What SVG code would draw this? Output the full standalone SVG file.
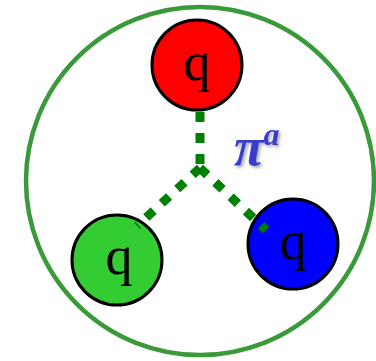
<svg xmlns="http://www.w3.org/2000/svg" width="376" height="361" viewBox="0 0 376 361">
<style>
.q{stroke:#000;stroke-width:3}
.t{font-family:"Liberation Serif",serif;font-size:54px;text-anchor:middle;fill:#000}
.c{fill:none;stroke:#008000;stroke-width:9;stroke-dasharray:10 11}
</style>
<defs>
<filter id="sh" x="-20%" y="-20%" width="150%" height="150%">
<feDropShadow dx="2" dy="2" stdDeviation="1.5" flood-color="#888" flood-opacity="0.7"/>
</filter>
</defs>
<g id="outer"><circle cx="200" cy="181" r="174" fill="#fff" stroke="#3a9a3a" stroke-width="4.5"/></g>
<g id="red"><circle class="q" cx="197" cy="65" r="45" fill="#ff0000"/><text class="t" x="197" y="80">q</text></g>
<g id="green"><circle class="q" cx="117" cy="260" r="45" fill="#33cc33"/><text class="t" x="119" y="274">q</text></g>
<g id="blue"><circle class="q" cx="293" cy="244" r="45" fill="#0000ff"/><text class="t" x="293" y="259">q</text></g>
<g id="connectors">
<path class="c" d="M200 112 L200 168"/>
<path class="c" d="M200 168 L137 226"/>
<path class="c" d="M200 168 L266 230"/>
</g>
<g id="label" filter="url(#sh)"><text x="234" y="165" font-family="Liberation Serif,serif" font-weight="bold" font-style="italic" font-size="54" fill="#3b3bcc">π<tspan font-size="32" dy="-20">a</tspan></text></g>
</svg>
